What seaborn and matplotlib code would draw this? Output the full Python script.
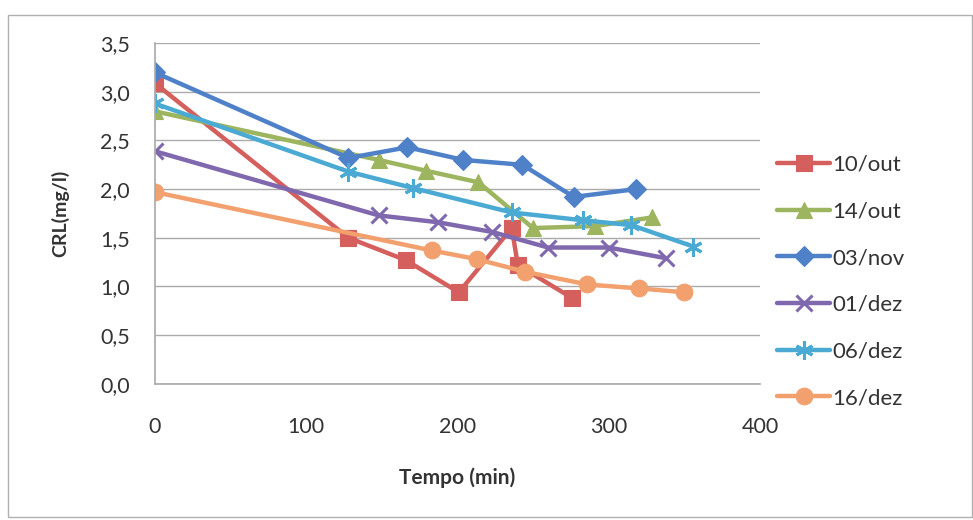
import matplotlib
matplotlib.use("Agg")
import numpy as np
import pandas as pd
import matplotlib.pyplot as plt
import seaborn as sns
from matplotlib.ticker import FuncFormatter

# --- data ---
series_names = ["10/out", "14/out", "03/nov", "01/dez", "06/dez", "16/dez"]

t_10out = [0, 128, 166, 201, 236, 240, 276]
c_10out = [3.09, 1.50, 1.27, 0.94, 1.60, 1.22, 0.88]

t_14out = [0, 148, 179, 214, 250, 291, 329]
c_14out = [2.80, 2.30, 2.19, 2.07, 1.60, 1.62, 1.71]

t_03nov = [0, 128, 167, 204, 243, 277, 318]
c_03nov = [3.20, 2.32, 2.43, 2.30, 2.25, 1.92, 2.00]

t_01dez = [0, 148, 187, 223, 260, 300, 338]
c_01dez = [2.39, 1.73, 1.66, 1.56, 1.40, 1.40, 1.29]

t_06dez = [0, 128, 171, 236, 283, 315, 356]
c_06dez = [2.88, 2.18, 2.01, 1.76, 1.68, 1.63, 1.41]

t_16dez = [0, 183, 213, 245, 286, 320, 350]
c_16dez = [1.97, 1.37, 1.28, 1.15, 1.02, 0.98, 0.94]

x_ticks = [0, 100, 200, 300, 400]
y_ticks = [0.0, 0.5, 1.0, 1.5, 2.0, 2.5, 3.0, 3.5]

times = [t_10out, t_14out, t_03nov, t_01dez, t_06dez, t_16dez]
concs = [c_10out, c_14out, c_03nov, c_01dez, c_06dez, c_16dez]

df = pd.concat(
    [pd.DataFrame({"Tempo": t, "CRL": c, "Data": n}) for n, t, c in zip(series_names, times, concs)],
    ignore_index=True,
)

colors = ["#D45F5C", "#9DB55E", "#4F81C9", "#8068AE", "#4BAAD3", "#F2A06E"]
markers = ["s", "^", "D", "x", (6, 2, 0), "o"]
msizes = [11, 11, 10, 11, 13, 12]

sns.set_theme(style="white")
plt.rcParams["font.family"] = ["Lato", "DejaVu Sans"]

fig = plt.figure(figsize=(9.73, 5.2), dpi=100)
ax = fig.add_axes([0.159, 0.262, 0.622, 0.655])

for name, col, mk, ms in zip(series_names, colors, markers, msizes):
    sub = df[df["Data"] == name]
    line_marker = mk in ("x",) or isinstance(mk, tuple)
    sns.lineplot(
        data=sub, x="Tempo", y="CRL", ax=ax, color=col, linewidth=3.2,
        marker=mk, markersize=ms, markeredgewidth=2.2 if line_marker else 0.8,
        markeredgecolor=col, label=name, sort=False, estimator=None,
    )

grid_col = "#ababab"
ax.set_xlim(0, 400)
ax.set_ylim(0, 3.5)
ax.set_xticks(x_ticks)
ax.set_yticks(y_ticks)
ax.yaxis.set_major_formatter(FuncFormatter(lambda v, p: f"{v:.1f}".replace(".", ",")))
ax.grid(axis="y", color=grid_col, linewidth=1.0)
for s in ["top", "right"]:
    ax.spines[s].set_visible(False)
ax.spines["left"].set_color(grid_col)
ax.spines["bottom"].set_color(grid_col)
ax.tick_params(axis="both", length=6, color=grid_col, direction="out",
               labelsize=15.5, labelcolor="#333333")
ax.tick_params(axis="x", pad=18)
ax.tick_params(axis="y", pad=12)
ax.set_xlabel("Tempo (min)", fontsize=15, fontweight="bold", color="#333333", labelpad=22)
ax.set_ylabel("CRL(mg/l)", fontsize=14, fontweight="bold", color="#333333", labelpad=22)

leg = ax.legend(loc="center left", bbox_to_anchor=(0.995, 0.30), frameon=False,
                fontsize=16, labelspacing=1.2, handlelength=2.4, handletextpad=0.1)
for txt in leg.get_texts():
    txt.set_color("#333333")

# outer chart border
fig.patches.append(plt.Rectangle((8 / 973, 3 / 520), 964 / 973, 502 / 520,
                                 transform=fig.transFigure, fill=False,
                                 edgecolor="#b0b0b0", linewidth=1.0))

fig.savefig("out.png", dpi=100, facecolor="white")
